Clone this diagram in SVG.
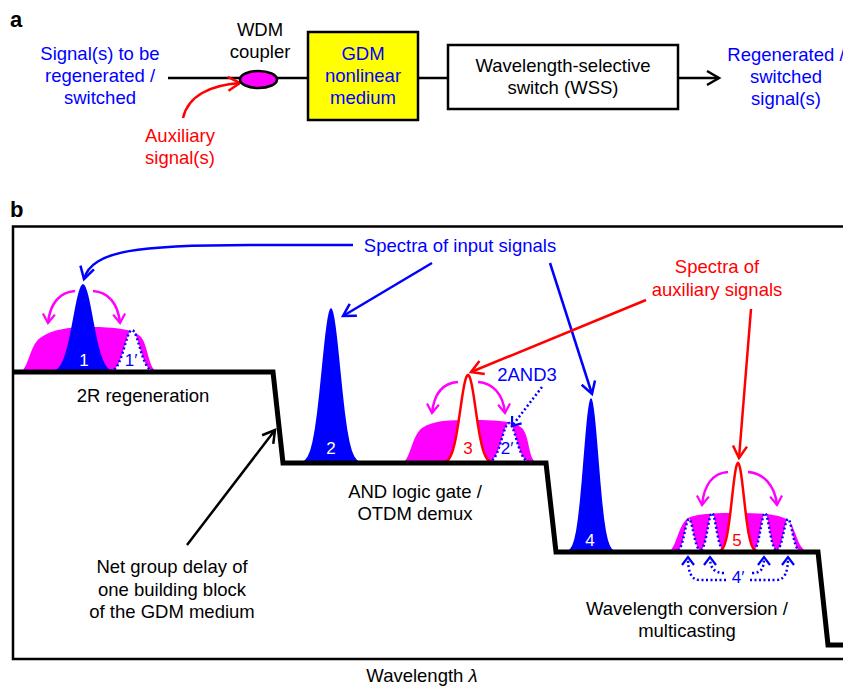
<svg xmlns="http://www.w3.org/2000/svg" width="843" height="686" viewBox="0 0 843 686">
<style>
text{font-family:"Liberation Sans",Arial,Helvetica,sans-serif;font-size:18.5px;text-anchor:middle;fill:#000}
.bl{fill:#00f}.rd{fill:#f00}.wh{fill:#fff}
.lbl{font-size:17px}
.ttl{font-size:22px;font-weight:bold;text-anchor:start}
.ln{fill:none;stroke-width:2.5}
.k{stroke:#000}.b{stroke:#00f}.r{stroke:#f00}.m{stroke:#f0f}
.dot{fill:#fff;stroke:#00f;stroke-width:2.5;stroke-dasharray:2 2.5}
.redp{fill:#fff;stroke:#f00;stroke-width:2.5}
.mag{fill:#f0f}
</style>
<defs>
<marker id="mk" markerUnits="userSpaceOnUse" orient="auto" overflow="visible" markerWidth="1" markerHeight="1"><path d="M-12,-7 L0,0 L-12,7" fill="none" stroke="#000" stroke-width="2.5"/></marker>
<marker id="mb" markerUnits="userSpaceOnUse" orient="auto" overflow="visible" markerWidth="1" markerHeight="1"><path d="M-12,-7 L0,0 L-12,7" fill="none" stroke="#00f" stroke-width="2.5"/></marker>
<marker id="mr" markerUnits="userSpaceOnUse" orient="auto" overflow="visible" markerWidth="1" markerHeight="1"><path d="M-12,-7 L0,0 L-12,7" fill="none" stroke="#f00" stroke-width="2.5"/></marker>
<marker id="mm" markerUnits="userSpaceOnUse" orient="auto" overflow="visible" markerWidth="1" markerHeight="1"><path d="M-9,-6 L0,0 L-9,6" fill="none" stroke="#f0f" stroke-width="2.2"/></marker>
<marker id="mbs" markerUnits="userSpaceOnUse" orient="auto" overflow="visible" markerWidth="1" markerHeight="1"><path d="M-8,-6 L0,0 L-8,6" fill="none" stroke="#00f" stroke-width="2.2"/></marker>
<path id="gf" d="M-3.5,0 L-3.5,-.0022 -3.25,-.0051 -3,-.0111 -2.75,-.0228 -2.5,-.0439 -2.25,-.0796 -2,-.1353 -1.75,-.2163 -1.5,-.3247 -1.25,-.4578 -1,-.6065 -.875,-.682 -.75,-.7548 -.625,-.8226 -.5,-.8825 -.375,-.9321 -.25,-.9692 -.125,-.9922 0,-1 .125,-.9922 .25,-.9692 .375,-.9321 .5,-.8825 .625,-.8226 .75,-.7548 .875,-.682 1,-.6065 1.25,-.4578 1.5,-.3247 1.75,-.2163 2,-.1353 2.25,-.0796 2.5,-.0439 2.75,-.0228 3,-.0111 3.25,-.0051 3.5,-.0022 3.5,0 Z"/>
<path id="go" vector-effect="non-scaling-stroke" d="M-3.5,0 L-3.25,-.0051 -3,-.0111 -2.75,-.0228 -2.5,-.0439 -2.25,-.0796 -2,-.1353 -1.75,-.2163 -1.5,-.3247 -1.25,-.4578 -1,-.6065 -.875,-.682 -.75,-.7548 -.625,-.8226 -.5,-.8825 -.375,-.9321 -.25,-.9692 -.125,-.9922 0,-1 .125,-.9922 .25,-.9692 .375,-.9321 .5,-.8825 .625,-.8226 .75,-.7548 .875,-.682 1,-.6065 1.25,-.4578 1.5,-.3247 1.75,-.2163 2,-.1353 2.25,-.0796 2.5,-.0439 2.75,-.0228 3,-.0111 3.25,-.0051 3.5,0"/>
</defs>

<!-- Panel a -->
<text class="ttl" x="10" y="27">a</text>
<g id="connectors-a">
<path class="ln k" d="M168,78 L240,78"/>
<path class="ln k" d="M277,78 L308,78"/>
<path class="ln k" d="M418,78 L448,78"/>
<path class="ln k" d="M678,78 L719,78" marker-end="url(#mk)"/>
<path class="ln r" d="M183,118 C188,96 210,85 240,83" marker-end="url(#mr)"/>
</g>
<g id="node-signal-in">
<text class="bl" x="100" y="60">Signal(s) to be</text>
<text class="bl" x="100" y="82">regenerated /</text>
<text class="bl" x="100" y="104">switched</text>
</g>
<g id="node-wdm">
<ellipse cx="258.5" cy="79.5" rx="18.5" ry="8.5" fill="#f0f" stroke="#000" stroke-width="2.5"/>
<text x="260" y="36">WDM</text>
<text x="260" y="58">coupler</text>
</g>
<g id="node-gdm">
<rect x="308" y="32" width="110" height="88" fill="#ff0" stroke="#000" stroke-width="2.5"/>
<text class="bl" x="363" y="60">GDM</text>
<text class="bl" x="363" y="82">nonlinear</text>
<text class="bl" x="363" y="104">medium</text>
</g>
<g id="node-wss">
<rect x="448" y="45" width="230" height="64" fill="#fff" stroke="#000" stroke-width="2.5"/>
<text x="563" y="72">Wavelength-selective</text>
<text x="563" y="94">switch (WSS)</text>
</g>
<g id="node-out">
<text class="bl" x="786" y="61">Regenerated /</text>
<text class="bl" x="786" y="83">switched</text>
<text class="bl" x="786" y="105">signal(s)</text>
</g>
<g id="node-aux">
<text class="rd" x="180" y="142">Auxiliary</text>
<text class="rd" x="180" y="164">signal(s)</text>
</g>

<!-- Panel b -->
<text class="ttl" x="10" y="217">b</text>
<rect x="13" y="226.5" width="860" height="432.5" fill="none" stroke="#000" stroke-width="2.5"/>
<text x="422" y="682">Wavelength <tspan font-style="italic">λ</tspan></text>

<g id="block-1">
<path class="mag" d="M20,372 C28,370 30,345 40,338 C52,329 70,327 90,327 C115,327 132,329 140,336 C148,343 148,368 157,372 Z"/>
<use href="#go" class="dot" transform="translate(132,372) scale(7.5,42)"/>
<use href="#gf" fill="#00f" transform="translate(83,372) scale(10,88)"/>
<text class="wh lbl" x="84" y="366">1</text>
<text class="bl lbl" x="131" y="366">1′</text>
<text x="143" y="402">2R regeneration</text>
</g>

<g id="block-2">
<path class="mag" d="M402,463 C410,461 412,435 422,428 C434,420 450,420 470,420 C495,420 515,421 522,428 C530,436 528,460 537,463 Z"/>
<use href="#gf" fill="#00f" transform="translate(331,463) scale(9.3,155)"/>
<use href="#go" class="dot" transform="translate(509,463) scale(7.2,40)"/>
<use href="#go" class="redp" transform="translate(468,463) scale(7.7,88)"/>
<text class="wh lbl" x="331" y="454">2</text>
<text class="rd lbl" x="468" y="454">3</text>
<text class="bl lbl" x="507" y="454">2′</text>
<text class="bl" x="527" y="381">2AND3</text>
<text x="415" y="498">AND logic gate /</text>
<text x="415" y="520">OTDM demux</text>
</g>

<g id="block-3">
<path class="mag" d="M668,552 C676,550 678,525 688,518 C700,513 718,513 738,513 C760,513 780,514 788,520 C796,527 797,549 808,552 Z"/>
<use href="#gf" fill="#00f" transform="translate(591,552) scale(7.5,154)"/>
<use href="#go" class="dot" transform="translate(689,552) scale(4.3,33)"/>
<use href="#go" class="dot" transform="translate(712,552) scale(4.3,39)"/>
<use href="#go" class="dot" transform="translate(765,552) scale(4.3,39)"/>
<use href="#go" class="dot" transform="translate(788,552) scale(4.3,33)"/>
<use href="#go" class="redp" transform="translate(738,552) scale(6,89)"/>
<text class="wh lbl" x="590" y="546">4</text>
<text class="rd lbl" x="737" y="546">5</text>
<text class="bl lbl" x="738" y="583">4′</text>
<text x="687" y="615">Wavelength conversion /</text>
<text x="687" y="637">multicasting</text>
</g>

<polyline points="13,372 273,372 283,463 546,463 556,552 818,552 828,645 850,645" fill="none" stroke="#000" stroke-width="5"/>

<g id="label-gdm-delay">
<text x="172" y="573">Net group delay of</text>
<text x="172" y="596">one building block</text>
<text x="172" y="618">of the GDM medium</text>
</g>
<g id="label-input">
<text class="bl" x="460" y="252">Spectra of input signals</text>
</g>
<g id="label-aux">
<text class="rd" x="717" y="273">Spectra of</text>
<text class="rd" x="717" y="296">auxiliary signals</text>
</g>

<g id="connectors-b">
<path class="ln k" d="M187,545 L275,430" marker-end="url(#mk)"/>
<path class="ln b" d="M353,245 L250,245 C140,245 92,250 84,279" marker-end="url(#mb)"/>
<path class="ln b" d="M432,263 L343,316" marker-end="url(#mb)"/>
<path class="ln b" d="M550,263 L592,394" marker-end="url(#mb)"/>
<path class="ln r" d="M646,300 L471,372" marker-end="url(#mr)"/>
<path class="ln r" d="M751,309 L739,458" marker-end="url(#mr)"/>
<path class="ln b" stroke-dasharray="2 2.5" d="M542,387 L512,426" marker-end="url(#mbs)"/>
<path class="ln m" stroke-width="2.2" d="M75,291 C60,292 50,303 48,323" marker-end="url(#mm)"/>
<path class="ln m" stroke-width="2.2" d="M93,291 C108,292 118,303 120,323" marker-end="url(#mm)"/>
<path class="ln m" stroke-width="2.2" d="M458,382 C443,383 434,394 432,413" marker-end="url(#mm)"/>
<path class="ln m" stroke-width="2.2" d="M478,382 C493,383 503,394 505,413" marker-end="url(#mm)"/>
<path class="ln m" stroke-width="2.2" d="M728,472 C713,473 704,485 702,505" marker-end="url(#mm)"/>
<path class="ln m" stroke-width="2.2" d="M748,472 C763,473 775,485 777,505" marker-end="url(#mm)"/>
<path class="ln b" stroke-width="2.2" stroke-dasharray="2 2.5" d="M726,580 L700,580 C691,580 688,572 688,557" marker-end="url(#mbs)"/>
<path class="ln b" stroke-width="2.2" stroke-dasharray="2 2.5" d="M724,573 C715,573 710,569 710,557" marker-end="url(#mbs)"/>
<path class="ln b" stroke-width="2.2" stroke-dasharray="2 2.5" d="M752,573 C761,573 764,569 764,557" marker-end="url(#mbs)"/>
<path class="ln b" stroke-width="2.2" stroke-dasharray="2 2.5" d="M750,580 L776,580 C785,580 788,572 788,557" marker-end="url(#mbs)"/>
</g>
</svg>
